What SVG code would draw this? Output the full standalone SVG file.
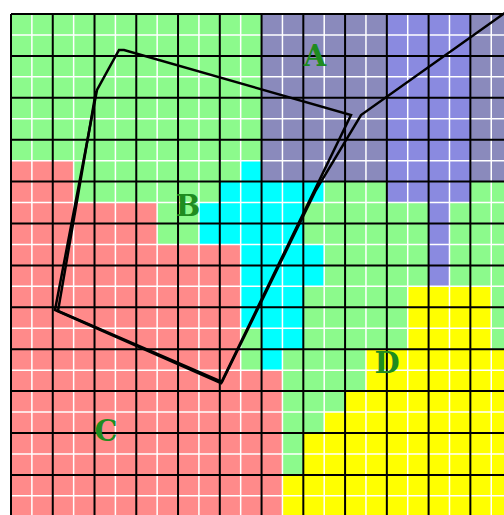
<svg xmlns="http://www.w3.org/2000/svg" width="504" height="515" viewBox="0 0 504 515">
<style>
.g{fill:#8cfa8c}.r{fill:#ff8a8a}.a{fill:#8a8abc}.a2{fill:#8a8ae0}.cy{fill:#00ffff}.y{fill:#ffff00}
.lbl{font-family:"DejaVu Serif","Liberation Serif",serif;font-weight:bold;font-size:29px;fill:#1f8c1f;text-anchor:middle}
.shape{fill:none;stroke:#000;stroke-width:2.5;stroke-linejoin:miter}
</style>
<rect width="504" height="515" fill="#fff"/>
<g transform="translate(11,14) scale(20.88,20.95)">
  <g id="region-B"><rect class="g" x="0" y="0" width="24" height="24"/></g>
  <g id="region-C">
    <rect class="r" x="0" y="7" width="3" height="2"/>
    <rect class="r" x="0" y="9" width="7" height="2"/>
    <rect class="r" x="0" y="11" width="11" height="6"/>
    <rect class="r" x="0" y="17" width="13" height="7"/>
  </g>
  <g id="region-A">
    <rect class="a" x="12" y="0" width="6" height="8"/>
    <rect class="a" x="22" y="0" width="2" height="8"/>
    <rect class="a2" x="18" y="0" width="4" height="9"/>
    <rect class="a2" x="20" y="9" width="1" height="4"/>
  </g>
  <g id="region-cyan">
    <rect class="cy" x="11" y="7" width="1" height="1"/>
    <rect class="cy" x="10" y="8" width="5" height="1"/>
    <rect class="cy" x="9" y="9" width="5" height="2"/>
    <rect class="cy" x="11" y="11" width="4" height="2"/>
    <rect class="cy" x="11" y="13" width="3" height="2"/>
    <rect class="cy" x="12" y="15" width="2" height="1"/>
    <rect class="cy" x="12" y="16" width="1" height="1"/>
  </g>
  <g id="region-D">
    <rect class="y" x="19" y="13" width="4" height="3"/>
    <rect class="y" x="17" y="16" width="7" height="2"/>
    <rect class="y" x="16" y="18" width="8" height="1"/>
    <rect class="y" x="15" y="19" width="9" height="1"/>
    <rect class="y" x="14" y="20" width="10" height="2"/>
    <rect class="y" x="13" y="22" width="11" height="2"/>
  </g>
  <g id="grid" fill="none">
    <path stroke="#fff" stroke-width="1.5" vector-effect="non-scaling-stroke" d="M1 0V24M3 0V24M5 0V24M7 0V24M9 0V24M11 0V24M13 0V24M15 0V24M17 0V24M19 0V24M21 0V24M23 0V24M0 1H24M0 3H24M0 5H24M0 7H24M0 9H24M0 11H24M0 13H24M0 15H24M0 17H24M0 19H24M0 21H24M0 23H24"/>
    <path stroke="#000" stroke-width="2" vector-effect="non-scaling-stroke" d="M0 0V24M2 0V24M4 0V24M6 0V24M8 0V24M10 0V24M12 0V24M14 0V24M16 0V24M18 0V24M20 0V24M22 0V24M24 0V24M0 0H24M0 2H24M0 4H24M0 6H24M0 8H24M0 10H24M0 12H24M0 14H24M0 16H24M0 18H24M0 20H24M0 22H24M0 24H24"/>
  </g>
</g>
<g id="connectors">
  <path class="shape" d="M55,310 L97,90 L119,50 L124,50 L351,115 L221,383 Z"/>
  <path class="shape" d="M506,12 L361,115 L316,190 L222,382 L58,311 L96,91"/>
</g>
<g id="labels">
  <g id="label-A"><text class="lbl" x="315" y="66">A</text></g>
  <g id="label-B"><text class="lbl" x="188" y="216">B</text></g>
  <g id="label-C"><text class="lbl" x="106" y="441">C</text></g>
  <g id="label-D"><text class="lbl" x="387" y="373">D</text></g>
</g>
</svg>
